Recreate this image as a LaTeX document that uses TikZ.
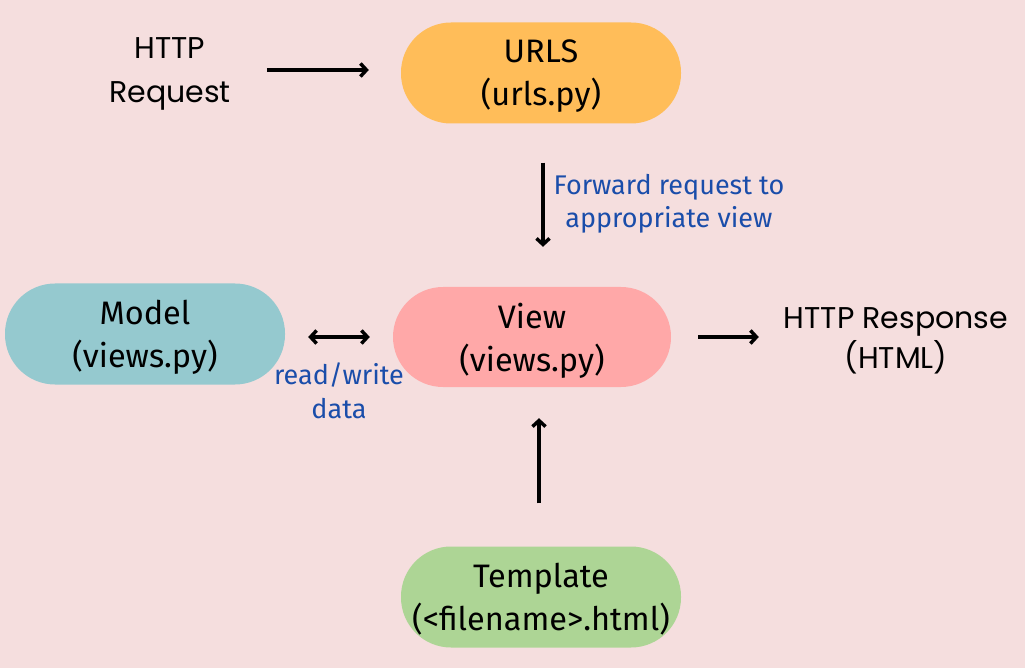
\documentclass[tikz,border=0pt]{standalone}
\usepackage{fontspec}
\setmainfont{Fira Sans}
\newfontfamily\popfont{Poppins}
\usetikzlibrary{arrows.meta}
\definecolor{bgpink}{HTML}{F5DEDE}
\definecolor{urlorange}{HTML}{FFBD59}
\definecolor{modelteal}{HTML}{95C9CF}
\definecolor{viewpink}{HTML}{FFA8A8}
\definecolor{tplgreen}{HTML}{ADD595}
\definecolor{notblue}{HTML}{1A4DAA}

\begin{document}
\begin{tikzpicture}
  [x=1pt,y=-1pt,>={Straight Barb[length=6pt,width=13pt,line width=3.5pt]},
   pill/.style={rectangle,rounded corners=50pt,minimum width=280pt,minimum height=101pt,
     align=center,font=\fontsize{32.5}{43}\selectfont,text depth=0pt},
   plain/.style={align=center,inner sep=0pt,font=\popfont\fontsize{30}{44}\selectfont,text depth=0pt},
   note/.style={align=center,inner sep=0pt,text=notblue,font=\fontsize{27}{33.5}\selectfont},
   arr/.style={line width=3.5pt,->}]
  \fill[bgpink] (0,0) rectangle (1025,668);
  \useasboundingbox (0,0) rectangle (1025,668);
  \node[plain] (request) at (170,70) {HTTP\\Request};
  \node[pill,fill=urlorange] (urls) at (541,73) {URLS\\(urls.py)};
  \node[pill,fill=modelteal] (model) at (145,334) {Model\\(views.py)};
  \node[pill,fill=viewpink,minimum width=278pt,minimum height=100pt] (view) at (532,337) {View\\(views.py)};
  \node[plain,font=\popfont\fontsize{30}{40}\selectfont] (response) at (896,338) {HTTP Response\\(HTML)};
  \node[pill,fill=tplgreen] (template) at (541,597) {Template\\(<filename>.html)};
  % labels on the connectors
  \node[note] (fwdnote) at (669,204) {Forward request to\\appropriate view};
  \node[note] (rwnote) at (339,391) {read/write\\data};

  \draw[arr,shorten <=36pt,shorten >=32pt] (request.east) -- (request.east -| urls.west);
  \draw[arr,shorten <=39pt,shorten >=40pt] ([xshift=2pt]urls.south) -- ([xshift=2pt]urls.south |- view.north);
  \draw[arr,<->,shorten <=23pt,shorten >=23pt] (model.east |- view.west) -- (view.west);
  \draw[arr,shorten <=27pt,shorten >=25pt] (view.east) -- (view.east -| response.west);
  \draw[arr,shorten <=43pt,shorten >=31pt] ([xshift=-2pt]template.north) -- ([xshift=-2pt]template.north |- view.south);
\end{tikzpicture}
\end{document}
